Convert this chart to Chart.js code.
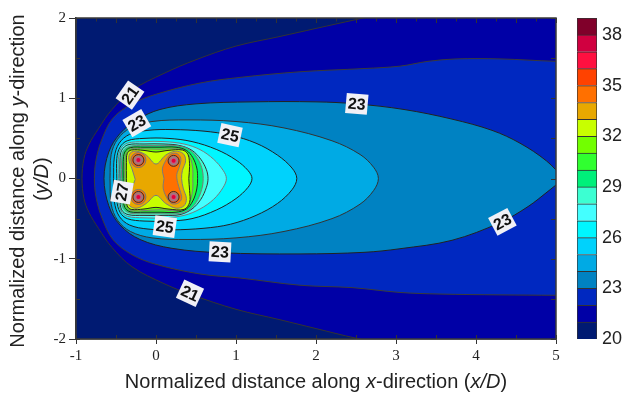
<!DOCTYPE html>
<html>
<head>
<meta charset="utf-8">
<script src="https://cdn.jsdelivr.net/npm/chart.js@4.4.1/dist/chart.umd.min.js"></script>
<style>
  html, body { margin: 0; padding: 0; background: #fff; }
  #wrap { position: relative; width: 626px; height: 394px; }
  #plot { position: absolute; left: 0; top: 0; }
  #bar { position: absolute; left: 560px; top: 0; }
</style>
</head>
<body>
<div id="wrap">
  <canvas id="plot" width="626" height="394"></canvas>
  <canvas id="bar" width="66" height="394"></canvas>
</div>
<script>
// colour bar: one bin per degree, 20..39
const barLevels = [20, 21, 22, 23, 24, 25, 26, 27, 28, 29, 30, 31, 32, 33, 34, 35, 36, 37, 38];
const barColors = ['#001a72', '#0000a6', '#0028c0', '#0082c2', '#00aae4', '#00d2fc', '#00f6ff', '#44ffff', '#3cffd2',
    '#00f07a', '#30ff30', '#72ff00', '#c8ff00', '#e8a800', '#ff7000', '#ff4200', '#ff1040', '#d00040', '#80002a'];
const barTicks = [20, 23, 26, 29, 32, 35, 38];

// contour lines in (x/D, y/D), each one closes the region above its level
const contour21 = [[6.0, 2.5], [3.2, 2.13], [2.5, 1.98], [2.0, 1.87], [1.55, 1.77], [1.0, 1.65], [0.5, 1.48], [0.1, 1.31],
    [-0.3, 1.1], [-0.55, 0.86], [-0.72, 0.62], [-0.84, 0.42], [-0.9, 0.25], [-0.925, 0], [-0.9, -0.25], [-0.84, -0.42],
    [-0.72, -0.62], [-0.55, -0.86], [-0.3, -1.1], [0.1, -1.31], [0.45, -1.45], [1.0, -1.63], [1.55, -1.76], [2.0, -1.87],
    [2.5, -1.99], [3.2, -2.13], [6.0, -2.5]];
const contour22 = [[5.6, 1.45], [5.0, 1.46], [4.3, 1.49], [3.75, 1.49], [3.4, 1.46], [3.05, 1.4], [2.6, 1.37], [1.8, 1.33],
    [1.05, 1.26], [0.55, 1.19], [0.0, 1.05], [-0.3, 0.93], [-0.54, 0.75], [-0.68, 0.48], [-0.75, 0.23], [-0.77, 0],
    [-0.75, -0.23], [-0.68, -0.48], [-0.54, -0.76], [-0.3, -0.95], [0.0, -1.07], [0.55, -1.19], [1.05, -1.24],
    [1.8, -1.33], [2.45, -1.36], [3.05, -1.42], [3.55, -1.44], [4.3, -1.45], [5.0, -1.455], [5.6, -1.455]];
const contour23 = [[5.1, 0], [4.88, 0.22], [4.55, 0.44], [4.2, 0.6], [3.7, 0.74], [3.1, 0.86], [2.5, 0.93], [2.0, 0.955],
    [1.2, 0.955], [0.5, 0.93], [0.05, 0.86], [-0.24, 0.73], [-0.45, 0.56], [-0.59, 0.33], [-0.65, 0], [-0.59, -0.34],
    [-0.45, -0.58], [-0.2, -0.76], [0.2, -0.87], [0.8, -0.925], [1.8, -0.94], [2.6, -0.92], [3.05, -0.875],
    [3.7, -0.77], [4.3, -0.55], [4.65, -0.35], [4.9, -0.16], [5.1, 0]];
const contour24 = [[-0.575, 0], [-0.56, 0.3], [-0.48, 0.49], [-0.32, 0.63], [-0.05, 0.71], [0.4, 0.73], [1.0, 0.71],
    [1.6, 0.63], [2.2, 0.47], [2.55, 0.3], [2.72, 0.14], [2.78, 0], [2.72, -0.15], [2.55, -0.32], [2.2, -0.5],
    [1.6, -0.66], [1.0, -0.74], [0.4, -0.76], [-0.05, -0.74], [-0.32, -0.66], [-0.48, -0.52], [-0.56, -0.32], [-0.575, 0]];
const contour25 = [[-0.53, 0], [-0.52, 0.27], [-0.46, 0.44], [-0.33, 0.55], [-0.1, 0.6], [0.2, 0.61], [0.6, 0.59],
    [0.93, 0.54], [1.25, 0.44], [1.52, 0.29], [1.7, 0.13], [1.76, 0], [1.7, -0.14], [1.52, -0.31], [1.25, -0.46],
    [0.93, -0.57], [0.6, -0.62], [0.2, -0.64], [-0.1, -0.63], [-0.33, -0.58], [-0.46, -0.47], [-0.52, -0.29], [-0.53, 0]];
const contour26 = [[-0.49, 0], [-0.49, 0.25], [-0.45, 0.39], [-0.36, 0.47], [-0.15, 0.5], [0.15, 0.5], [0.45, 0.46],
    [0.76, 0.36], [1.0, 0.23], [1.15, 0.1], [1.2, 0], [1.15, -0.11], [1.0, -0.25], [0.76, -0.39], [0.45, -0.5],
    [0.15, -0.53], [-0.15, -0.53], [-0.36, -0.5], [-0.45, -0.42], [-0.49, -0.27], [-0.49, 0]];
const contour27 = [[-0.47, 0], [-0.47, 0.24], [-0.44, 0.37], [-0.36, 0.44], [-0.15, 0.46], [0.1, 0.46], [0.35, 0.43],
    [0.55, 0.36], [0.72, 0.24], [0.84, 0.1], [0.88, 0], [0.84, -0.11], [0.72, -0.26], [0.55, -0.38], [0.35, -0.46],
    [0.1, -0.49], [-0.15, -0.49], [-0.36, -0.47], [-0.44, -0.4], [-0.47, -0.26], [-0.47, 0]];
const contour28 = [[-0.45, 0], [-0.45, 0.23], [-0.43, 0.35], [-0.35, 0.42], [-0.15, 0.43], [0.1, 0.43], [0.3, 0.41],
    [0.45, 0.35], [0.56, 0.24], [0.63, 0.11], [0.65, 0], [0.63, -0.11], [0.56, -0.26], [0.45, -0.38], [0.3, -0.45],
    [0.1, -0.46], [-0.15, -0.46], [-0.35, -0.45], [-0.43, -0.39], [-0.45, -0.25], [-0.45, 0]];
const contour29 = [[-0.43, 0], [-0.43, 0.22], [-0.41, 0.34], [-0.33, 0.4], [-0.15, 0.41], [0.05, 0.41], [0.25, 0.41],
    [0.4, 0.37], [0.5, 0.28], [0.57, 0.14], [0.59, 0], [0.57, -0.14], [0.5, -0.3], [0.4, -0.4], [0.25, -0.44],
    [0.05, -0.44], [-0.15, -0.44], [-0.33, -0.43], [-0.41, -0.37], [-0.43, -0.24], [-0.43, 0]];
const contour30 = [[-0.41, 0], [-0.41, 0.21], [-0.39, 0.33], [-0.32, 0.385], [-0.15, 0.39], [0.05, 0.39], [0.25, 0.39],
    [0.38, 0.35], [0.46, 0.26], [0.51, 0.13], [0.52, 0], [0.51, -0.13], [0.46, -0.28], [0.38, -0.38], [0.25, -0.42],
    [0.05, -0.42], [-0.15, -0.42], [-0.32, -0.415], [-0.39, -0.36], [-0.41, -0.23], [-0.41, 0]];
const contour31 = [[-0.39, 0], [-0.39, 0.2], [-0.37, 0.32], [-0.31, 0.37], [-0.15, 0.37], [0.05, 0.365], [0.25, 0.37],
    [0.36, 0.34], [0.43, 0.25], [0.46, 0.12], [0.46, 0], [0.46, -0.12], [0.43, -0.27], [0.36, -0.37], [0.25, -0.4],
    [0.05, -0.39], [-0.15, -0.4], [-0.31, -0.4], [-0.37, -0.35], [-0.39, -0.22], [-0.39, 0]];
const contour32 = [[-0.37, 0], [-0.37, 0.2], [-0.36, 0.31], [-0.31, 0.355], [-0.15, 0.35], [0.0, 0.33], [0.15, 0.35],
    [0.33, 0.355], [0.4, 0.3], [0.42, 0.15], [0.41, 0], [0.42, -0.15], [0.42, -0.3], [0.35, -0.385], [0.15, -0.38],
    [0.0, -0.36], [-0.15, -0.38], [-0.31, -0.385], [-0.36, -0.34], [-0.37, -0.2], [-0.37, 0]];
const contour33 = [[-0.26, -0.01], [-0.3, 0.12], [-0.34, 0.24], [-0.32, 0.32], [-0.24, 0.34], [-0.12, 0.29], [0.0, 0.18],
    [0.12, 0.29], [0.24, 0.34], [0.34, 0.31], [0.37, 0.22], [0.33, 0.1], [0.32, 0.0], [0.34, -0.12], [0.38, -0.25],
    [0.35, -0.34], [0.25, -0.37], [0.12, -0.31], [0.0, -0.21], [-0.12, -0.31], [-0.24, -0.37], [-0.33, -0.34],
    [-0.35, -0.25], [-0.3, -0.12], [-0.26, -0.01]];
const contour34 = [[0.1, 0.0], [0.08, 0.12], [0.12, 0.22], [0.18, 0.3], [0.26, 0.31], [0.31, 0.25], [0.29, 0.14],
    [0.26, 0.05], [0.27, -0.05], [0.3, -0.15], [0.32, -0.25], [0.27, -0.31], [0.19, -0.31], [0.13, -0.23],
    [0.09, -0.12], [0.1, 0.0]];

const contourLevels = [21, 22, 23, 24, 25, 26, 27, 28, 29, 30, 31, 32, 33, 34];
const contours = [contour21, contour22, contour23, contour24, contour25, contour26, contour27, contour28,
    contour29, contour30, contour31, contour32, contour33, contour34];
const lineColors = ['#333', '#3a3a3a', '#222', '#333', '#222', '#222', '#7a7a7a', '#333', '#7a7a7a', '#222',
    '#7a7a7a', '#222', '#7a7a7a', '#7a7a7a'];

// the four hot spots
const spotX = [-0.22, 0.22, -0.22, 0.22];
const spotY = [0.23, 0.22, -0.23, -0.23];

// inline contour labels
const labelText = ['21', '23', '25', '23', '25', '23', '23', '21', '27'];
const labelX = [-0.325, -0.24, 0.925, 2.51, 0.11, 0.8, 4.33, 0.425, -0.425];
const labelY = [1.04, 0.69, 0.54, 0.93, -0.6, -0.915, -0.54, -1.43, -0.17];
const labelAngle = [-55, -30, 12, 5, 8, 3, -28, 25, -80];

const xTitle = [['Normalized distance along ', false], ['x', true], ['-direction (', false], ['x/D', true], [')', false]];
const yTitle = [['Normalized distance along ', false], ['y', true], ['-direction', false]];
const yTitle2 = [['(', false], ['y/D', true], [')', false]];

const range = (a, b, s) => Array.from({ length: Math.round((b - a) / s) + 1 }, (_, i) => a + i * s);

const contourSets = contours.map((pts, i) => ({
    label: contourLevels[i] + ' °C',
    data: pts.map(([x, y]) => ({ x, y })),
    fill: 'shape',
    backgroundColor: barColors[contourLevels[i] - 20],
    borderColor: lineColors[i],
    borderWidth: 1,
    pointRadius: 0,
    tension: 0.35,
    order: 100 - i,
}));

const spotPoints = spotX.map((x, i) => ({ x, y: spotY[i] }));
const spot = (data, r, bg, border, bw, order) => ({
    data, showLine: false, fill: false, order,
    pointRadius: r, pointBackgroundColor: bg, pointBorderColor: border, pointBorderWidth: bw,
});
const spotSets = [
    spot([spotPoints[0], spotPoints[2]], 7.5, barColors[14], '#777', 1, 4),
    spot(spotPoints, 5.5, barColors[15], '#333', 1, 3),
    spot(spotPoints, 4, '#c0607c', '#888', 1.2, 2),
    spot(spotPoints, 2, '#e4003c', '#e4003c', 0, 1),
];

function drawRuns(ctx, runs, cx, cy) {
    const font = it => (it ? 'italic ' : '') + '20px "Liberation Sans"';
    const widths = runs.map(([t, it]) => { ctx.font = font(it); return ctx.measureText(t).width; });
    let pos = cx - widths.reduce((a, b) => a + b, 0) / 2;
    ctx.textAlign = 'left';
    ctx.textBaseline = 'middle';
    ctx.fillStyle = '#222';
    runs.forEach(([t, it], i) => { ctx.font = font(it); ctx.fillText(t, pos, cy); pos += widths[i]; });
}

const backdrop = {
    id: 'backdrop',
    beforeDatasetsDraw(chart) {
        const { ctx, chartArea: a } = chart;
        ctx.save();
        ctx.fillStyle = barColors[0];
        ctx.fillRect(a.left, a.top, a.width, a.height);
        ctx.restore();
    },
};

const frame = {
    id: 'frame',
    afterDatasetsDraw(chart) {
        const { ctx, chartArea: a, scales: { x, y } } = chart;
        ctx.save();
        // contour labels
        labelText.forEach((t, i) => {
            ctx.save();
            ctx.translate(x.getPixelForValue(labelX[i]), y.getPixelForValue(labelY[i]));
            ctx.rotate(labelAngle[i] * Math.PI / 180);
            ctx.font = 'bold 16px "Liberation Sans"';
            const w = ctx.measureText(t).width + 4;
            ctx.fillStyle = '#f0f0f6';
            ctx.fillRect(-w / 2, -10, w, 20);
            ctx.fillStyle = '#111';
            ctx.textAlign = 'center';
            ctx.textBaseline = 'middle';
            ctx.fillText(t, 0, 1);
            ctx.restore();
        });
        // inward ticks
        ctx.strokeStyle = '#333';
        ctx.lineWidth = 1;
        ctx.beginPath();
        range(-1, 5, 0.5).forEach(v => {
            const px = Math.round(x.getPixelForValue(v)) + 0.5;
            ctx.moveTo(px, a.bottom); ctx.lineTo(px, a.bottom - 4);
        });
        range(-1, 5, 0.25).forEach((v, i) => {
            const px = Math.round(x.getPixelForValue(v)) + 0.5;
            ctx.moveTo(px, a.top); ctx.lineTo(px, a.top + (i % 2 ? 3.5 : 5));
        });
        range(-2, 2, 0.5).forEach(v => {
            const py = Math.round(y.getPixelForValue(v)) + 0.5;
            ctx.moveTo(a.left, py); ctx.lineTo(a.left + 4, py);
            ctx.moveTo(a.right, py); ctx.lineTo(a.right - 5, py);
        });
        ctx.stroke();
        ctx.lineWidth = 1.5;
        ctx.strokeStyle = '#3a3a3a';
        ctx.strokeRect(a.left, a.top, a.width, a.height);
        ctx.restore();
    },
    afterDraw(chart) {
        const { ctx, chartArea: a } = chart;
        ctx.save();
        drawRuns(ctx, xTitle, (a.left + a.right) / 2, 382);
        ctx.translate(18, 181);
        ctx.rotate(-Math.PI / 2);
        drawRuns(ctx, yTitle, 0, 0);
        ctx.restore();
        ctx.save();
        ctx.translate(42, 179);
        ctx.rotate(-Math.PI / 2);
        drawRuns(ctx, yTitle2, 0, 0);
        ctx.restore();
    },
};

const tickFont = { family: 'Liberation Serif', size: 15 };

new Chart(document.getElementById('plot'), {
    type: 'line',
    data: { datasets: [...contourSets, ...spotSets] },
    options: {
        responsive: false,
        animation: false,
        events: [],
        layout: { padding: { left: 0, top: 18, right: 70, bottom: 0 } },
        elements: { line: { capBezierPoints: false } },
        plugins: { legend: { display: false }, tooltip: { enabled: false } },
        scales: {
            x: {
                type: 'linear', min: -1, max: 5,
                ticks: { stepSize: 1, padding: 3, font: tickFont, color: '#222' },
                grid: { drawOnChartArea: false, tickLength: 5, color: '#333' },
                border: { color: '#333', width: 1.5 },
                afterFit: s => { s.height = 55; },
            },
            y: {
                type: 'linear', min: -2, max: 2,
                ticks: { stepSize: 1, padding: 3, font: tickFont, color: '#222' },
                grid: { drawOnChartArea: false, tickLength: 7, color: '#333' },
                border: { color: '#333', width: 1.5 },
                afterFit: s => { s.width = 76; },
            },
        },
    },
    plugins: [backdrop, frame],
});

new Chart(document.getElementById('bar'), {
    type: 'bar',
    data: {
        labels: ['T'],
        datasets: barLevels.map((lv, i) => ({
            label: lv + '-' + (lv + 1),
            data: [[lv, lv + 1]],
            backgroundColor: barColors[i],
            borderColor: '#333',
            borderWidth: 1,
            grouped: false,
            barPercentage: 1,
            categoryPercentage: 1,
        })),
    },
    options: {
        responsive: false,
        animation: false,
        events: [],
        layout: { padding: { left: 17, top: 18, right: 0, bottom: 55 } },
        plugins: { legend: { display: false }, tooltip: { enabled: false } },
        scales: {
            x: { display: false },
            y: {
                position: 'right', min: 20, max: 39,
                afterBuildTicks: s => { s.ticks = barTicks.map(v => ({ value: v })); },
                afterFit: s => { s.width = 29; },
                ticks: { padding: 5, font: { family: 'Liberation Sans', size: 18 }, color: '#222' },
                grid: { display: false, drawTicks: false },
                border: { display: false },
            },
        },
    },
});
</script>
</body>
</html>
